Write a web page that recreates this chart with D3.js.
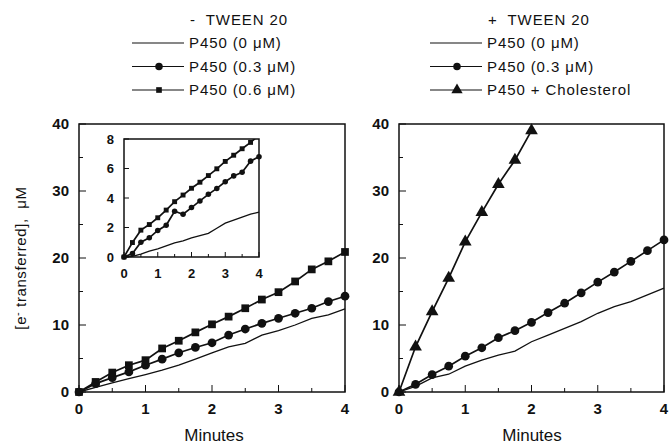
<!DOCTYPE html>
<html>
<head>
<meta charset="utf-8">
<script src="https://cdn.jsdelivr.net/npm/d3@7"></script>
<style>
body { margin: 0; background: #fff; }
text { font-family: "Liberation Sans", Arial, sans-serif; fill: #111; }
</style>
</head>
<body>
<svg width="671" height="445"></svg>
<script>
// time points (minutes)
var minutes = [0, 0.25, 0.5, 0.75, 1, 1.25, 1.5, 1.75, 2, 2.25, 2.5, 2.75, 3, 3.25, 3.5, 3.75, 4];
var triMinutes = [0, 0.25, 0.5, 0.75, 1, 1.25, 1.5, 1.75, 2];

// - TWEEN 20
var noTweenP0   = [0, 0.7, 1.35, 2.0, 2.6, 3.25, 4.0, 4.9, 5.85, 6.75, 7.25, 8.5, 9.15, 10.0, 11.0, 11.5, 12.4];
var noTweenP03  = [0, 1.25, 2.15, 3.0, 4.0, 4.9, 5.85, 6.65, 7.35, 8.5, 9.4, 10.25, 11.0, 11.75, 12.5, 13.5, 14.3];
var noTweenP06  = [0, 1.5, 2.9, 4.0, 4.75, 6.5, 7.65, 8.9, 10.1, 11.25, 12.5, 13.8, 14.9, 16.5, 18.3, 19.5, 20.9];

// inset (- TWEEN 20, low range)
var insetP0  = [0, 0.05, 0.2, 0.4, 0.55, 0.75, 0.95, 1.1, 1.3, 1.45, 1.6, 1.95, 2.3, 2.5, 2.7, 2.9, 3.05];
var insetP03 = [0, 0.23, 1.0, 1.3, 1.8, 2.15, 3.1, 2.9, 3.35, 3.8, 4.25, 4.65, 5.1, 5.5, 5.75, 6.5, 6.8];
var insetP06 = [0, 0.98, 1.82, 2.2, 2.66, 3.18, 3.75, 4.2, 4.66, 5.07, 5.52, 5.98, 6.48, 6.9, 7.34, 7.77, 8.25];

// + TWEEN 20
var tweenP0    = [0, 0.85, 2.1, 2.65, 3.85, 4.75, 5.5, 6.1, 7.5, 8.5, 9.5, 10.5, 11.75, 12.75, 13.5, 14.5, 15.5];
var tweenP03   = [0, 1.15, 2.6, 3.85, 5.35, 6.6, 8.1, 9.15, 10.4, 11.85, 13.25, 14.8, 16.4, 17.9, 19.5, 21.1, 22.7];
var tweenChol  = [0, 6.75, 12.0, 17.0, 22.4, 26.8, 31.0, 34.6, 39.0];

var xTicks = [0, 1, 2, 3, 4];
var yTicks = [0, 10, 20, 30, 40];
var insetYTicks = [0, 2, 4, 6, 8];

var svg = d3.select("svg");

function pts(xs, ys) {
    return xs.map(function (x, i) { return [x, ys[i]]; });
}

function drawFrame(g, x, y, opts) {
    var x0 = x.range()[0], x1 = x.range()[1];
    var y0 = y.range()[0], y1 = y.range()[1];
    g.append("rect")
        .attr("x", x0).attr("y", y1)
        .attr("width", x1 - x0).attr("height", y0 - y1)
        .attr("fill", "none").attr("stroke", "#111").attr("stroke-width", 1.5);

    // minor + major ticks, pointing inward
    var xt = d3.range(0, 4.01, 0.5);
    g.selectAll(null).data(xt).enter().append("line")
        .attr("x1", function (d) { return x(d); }).attr("x2", function (d) { return x(d); })
        .attr("y1", y0).attr("y2", function (d) { return y0 - (d % 1 === 0 ? opts.major : opts.minor); })
        .attr("stroke", "#111").attr("stroke-width", 1);
    g.selectAll(null).data(opts.yMinor).enter().append("line")
        .attr("x1", x0).attr("x2", function (d) { return x0 + (opts.yTicks.indexOf(d) >= 0 ? opts.major : opts.minor); })
        .attr("y1", function (d) { return y(d); }).attr("y2", function (d) { return y(d); })
        .attr("stroke", "#111").attr("stroke-width", 1);

    g.selectAll(null).data(xTicks).enter().append("text")
        .attr("x", function (d) { return x(d); })
        .attr("y", y0 + opts.xLabelOff)
        .attr("text-anchor", "middle")
        .style("font-size", opts.font + "px").style("font-weight", "bold")
        .text(function (d) { return d; });
    g.selectAll(null).data(opts.yTicks).enter().append("text")
        .attr("x", x0 - opts.yLabelOff)
        .attr("y", function (d) { return y(d); })
        .attr("dy", "0.36em")
        .attr("text-anchor", "end")
        .style("font-size", opts.font + "px").style("font-weight", "bold")
        .text(function (d) { return d; });
}

function drawSeries(g, x, y, data, marker, size) {
    var line = d3.line().x(function (d) { return x(d[0]); }).y(function (d) { return y(d[1]); });
    g.append("path").attr("d", line(data))
        .attr("fill", "none").attr("stroke", "#111").attr("stroke-width", marker ? 1.7 : 1.3);
    if (!marker) return;
    var sym = d3.symbol().type(marker).size(size);
    g.selectAll(null).data(data).enter().append("path")
        .attr("d", sym)
        .attr("transform", function (d) { return "translate(" + x(d[0]) + "," + y(d[1]) + ")"; })
        .attr("fill", "#111");
}

function legend(g, x, y, title, items, titleX) {
    g.append("text").attr("x", titleX).attr("y", y).style("font-size", "15px")
        .style("letter-spacing", "0.9px")
        .attr("xml:space", "preserve").text(title);
    items.forEach(function (it, i) {
        var yy = y + 23 + i * 23.5;
        g.append("line").attr("x1", x).attr("x2", x + 52).attr("y1", yy - 5).attr("y2", yy - 5)
            .attr("stroke", "#111").attr("stroke-width", 1.2);
        if (it.marker) {
            g.append("path").attr("d", d3.symbol().type(it.marker).size(it.size)())
                .attr("transform", "translate(" + (x + 27) + "," + (yy - 5) + ")")
                .attr("fill", "#111");
        }
        g.append("text").attr("x", x + 57).attr("y", yy).style("font-size", "15px")
            .style("letter-spacing", "0.9px").text(it.label);
    });
}

var fullOpts = { major: 7, minor: 4, xLabelOff: 22, yLabelOff: 10, font: 15,
    yTicks: yTicks, yMinor: d3.range(0, 40.1, 5) };

// ---- left panel ----
var xL = d3.scaleLinear().domain([0, 4]).range([79, 345]);
var yL = d3.scaleLinear().domain([0, 40]).range([392, 124]);
var gL = svg.append("g");
drawFrame(gL, xL, yL, fullOpts);
drawSeries(gL, xL, yL, pts(minutes, noTweenP0), null);
drawSeries(gL, xL, yL, pts(minutes, noTweenP03), d3.symbolCircle, 60);
drawSeries(gL, xL, yL, pts(minutes, noTweenP06), d3.symbolSquare, 60);

// inset
var xI = d3.scaleLinear().domain([0, 4]).range([124, 259]);
var yI = d3.scaleLinear().domain([0, 8]).range([257, 139]);
var gI = svg.append("g");
gI.append("rect").attr("x", 118).attr("y", 132).attr("width", 147).attr("height", 126).attr("fill", "#fff");
svg.append("clipPath").attr("id", "insetClip").append("rect")
    .attr("x", 118).attr("y", 139).attr("width", 145).attr("height", 124);
drawFrame(gI, xI, yI, { major: 5, minor: 3, xLabelOff: 21, yLabelOff: 10, font: 13,
    yTicks: insetYTicks, yMinor: insetYTicks });
var gIc = gI.append("g").attr("clip-path", "url(#insetClip)");
drawSeries(gIc, xI, yI, pts(minutes, insetP0), null);
drawSeries(gIc, xI, yI, pts(minutes, insetP03), d3.symbolCircle, 24);
drawSeries(gIc, xI, yI, pts(minutes, insetP06), d3.symbolSquare, 24);

// ---- right panel ----
var xR = d3.scaleLinear().domain([0, 4]).range([399, 664]);
var yR = d3.scaleLinear().domain([0, 40]).range([392, 124]);
var gR = svg.append("g");
drawFrame(gR, xR, yR, fullOpts);
drawSeries(gR, xR, yR, pts(minutes, tweenP0), null);
drawSeries(gR, xR, yR, pts(minutes, tweenP03), d3.symbolCircle, 60);
drawSeries(gR, xR, yR, pts(triMinutes, tweenChol), d3.symbolTriangle, 70);

// legends
legend(svg.append("g"), 132, 25, "-  TWEEN 20", [
    { label: "P450 (0 \u03bcM)" },
    { label: "P450 (0.3 \u03bcM)", marker: d3.symbolCircle, size: 45 },
    { label: "P450 (0.6 \u03bcM)", marker: d3.symbolSquare, size: 32 }
], 190);
legend(svg.append("g"), 430, 25, "+  TWEEN 20", [
    { label: "P450 (0 \u03bcM)" },
    { label: "P450 (0.3 \u03bcM)", marker: d3.symbolCircle, size: 45 },
    { label: "P450 + Cholesterol", marker: d3.symbolTriangle, size: 55 }
], 488);

// axis titles
svg.append("text").attr("x", 214).attr("y", 441).attr("text-anchor", "middle")
    .style("font-size", "17px").text("Minutes");
svg.append("text").attr("x", 532).attr("y", 441).attr("text-anchor", "middle")
    .style("font-size", "17px").text("Minutes");
var yt = svg.append("text").attr("transform", "translate(26,258) rotate(-90)")
    .attr("text-anchor", "middle").style("font-size", "15px").style("letter-spacing", "0.6px")
    .attr("xml:space", "preserve");
yt.append("tspan").text("[e");
yt.append("tspan").attr("dy", -5).style("font-size", "11px").text("-");
yt.append("tspan").attr("dy", 5).text(" transferred],  \u03bcM");
</script>
</body>
</html>
